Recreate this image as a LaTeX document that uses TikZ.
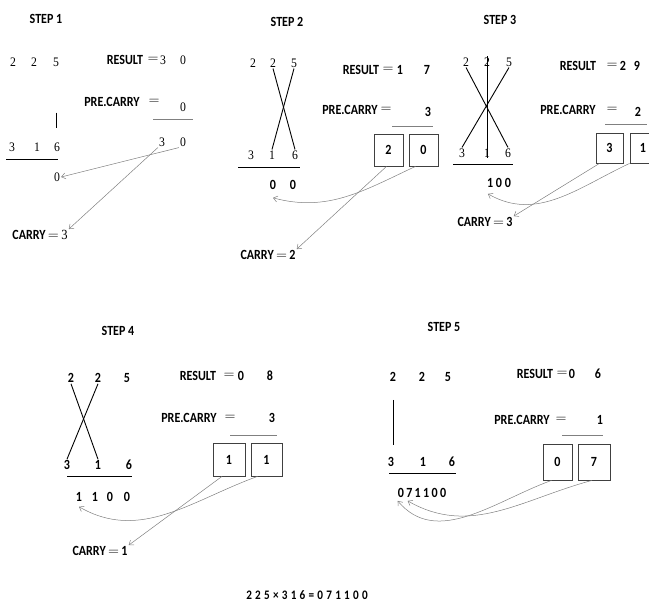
\documentclass[tikz,border=0pt]{standalone}
\usepackage{fontspec}
\setmainfont{Carlito}[FakeStretch=0.86]
\newfontfamily\serifdigits{Liberation Serif}[FakeStretch=0.9]
\usetikzlibrary{arrows.meta}

\tikzset{
  lbl/.style={font=\bfseries\fontsize{14}{16}\selectfont, inner sep=1pt},
  eqs/.style={font=\fontsize{14}{14}\selectfont, inner sep=1pt},
  dig/.style={font=\serifdigits\fontsize{13}{15}\selectfont, inner sep=1pt},
  bdig/.style={font=\bfseries\fontsize{14}{16}\selectfont, inner sep=1pt},
  digbox/.style={draw=black!75, line width=0.8pt, inner sep=0pt, font=\bfseries\fontsize{14}{16}\selectfont},
  rule/.style={line width=0.9pt},
  carry/.style={-{Straight Barb[length=4pt,width=6pt]}, gray, line width=0.5pt},
}

\begin{document}
\begin{tikzpicture}[x=1pt,y=-1pt]

\clip (0,0) rectangle (649,603);

% step 1
\node [lbl] (s1title) at (46,19) {STEP 1};
\node [dig] (s1a1) at (13,62) {2};
\node [dig] (s1a2) at (34,62) {2};
\node [dig] (s1a3) at (56,62) {5};
\node [dig] (s1b1) at (12,147) {3};
\node [dig] (s1b2) at (37,147) {1};
\node [dig] (s1b3) at (57,147) {6};
\draw [rule, shorten <=45pt, shorten >=19pt] (s1a3) -- (s1a3 |- s1b3);
\draw [rule] (6,159) -- (58,159);
\node [dig] (s1o1) at (57,177) {0};

\node [lbl] (s1res) at (125,60) {RESULT};
\node [eqs] (s1eq) at (153,60) {$=$};
\node [dig] (s1r1) at (163,60) {3};
\node [dig] (s1r2) at (183,60) {0};
\node [lbl] (s1pre) at (112,102) {PRE.CARRY};
\node [eqs] (s1peq) at (154,102) {$=$};
\node [dig] (s1pc) at (183,107) {0};
\draw [rule, gray] (153,119) -- (193,119);
\node [dig] (s1p1) at (162,142) {3};
\node [dig] (s1p2) at (183,142) {0};

\node [lbl] (s1carry) at (40,235) {CARRY\,$=$\,{\serifdigits\mdseries 3}};
\draw [carry] (s1p2.south west) -- (s1o1.east);
\draw [carry] (s1p1.south west) -- (s1carry.north east);

% step 2
\node [lbl] (s2title) at (287,22) {STEP 2};
\node [dig] (s2a1) at (253,63) {2};
\node [dig] (s2a2) at (273,63) {2};
\node [dig] (s2a3) at (294,63) {5};
\node [dig] (s2b1) at (251,155) {3};
\node [dig] (s2b2) at (272,155) {1};
\node [dig] (s2b3) at (295,155) {6};
\draw [rule] (s2a2.south) -- (s2b3.north);
\draw [rule] (s2a3.south) -- (s2b2.north);
\draw [rule] (238,167) -- (300,167);
\node [bdig] (s2r1) at (273,185) {0};
\node [bdig] (s2r2) at (293,185) {0};

\node [lbl] (s2res) at (361,70) {RESULT};
\node [eqs] (s2eq) at (388,70) {$=$};
\node [bdig] (s2v1) at (400,70) {1};
\node [bdig] (s2v2) at (427,70) {7};
\node [lbl] (s2pre) at (350,110) {PRE.CARRY};
\node [eqs] (s2peq) at (386,110) {$=$};
\node [bdig] (s2pc) at (428,112) {3};
\draw [rule, gray] (392,126) -- (433,126);
\node [digbox, minimum width=29pt, minimum height=32pt] (s2p) at (388.5,150) {2};
\node [digbox, minimum width=29pt, minimum height=32pt] (s2q) at (423.5,150) {0};

\node [lbl] (s2carry) at (268,255) {CARRY\,$=$\,2};
\draw [carry] ([xshift=-8pt]s2q.south) to [out=205, in=-15] ([yshift=-7pt]s2r1.south);
\draw [carry] ([xshift=-2pt]s2p.south) -- (s2carry.north east);

% step 3
\node [lbl] (s3title) at (500,20) {STEP 3};
\node [dig] (s3a1) at (466,62) {2};
\node [dig] (s3a2) at (487,62) {2};
\node [dig] (s3a3) at (509,62) {5};
\node [dig] (s3b1) at (462,153) {3};
\node [dig] (s3b2) at (487,153) {1};
\node [dig] (s3b3) at (508,153) {6};
\draw [rule] (s3a1.south) -- (s3b3.north);
\draw [rule] (s3a3.south) -- (s3b1.north);
\draw [rule] (s3a2.north) -- (s3b2.south);
\draw [rule] (453,164) -- (513,164);
\node [bdig] (s3r) at (499,183) {1 0 0};

\node [lbl] (s3res) at (578,66) {RESULT};
\node [eqs] (s3eq) at (612,66) {$=$};
\node [bdig] (s3v1) at (623,66) {2};
\node [bdig] (s3v2) at (637,66) {9};
\node [lbl] (s3pre) at (568,110) {PRE.CARRY};
\node [eqs] (s3peq) at (612,110) {$=$};
\node [bdig] (s3pc) at (638,112) {2};
\draw [rule, gray] (605,124) -- (647,124);
\node [digbox, minimum width=27pt, minimum height=30pt] (s3p) at (609.5,148) {3};
\node [digbox, minimum width=26pt, minimum height=30pt] (s3q) at (643,148) {1};

\node [lbl] (s3carry) at (485,222) {CARRY\,$=$\,3};
\draw [carry] (s3q.south west) to [out=205, in=-30] ([xshift=2pt,yshift=-5pt]s3r.south west);
\draw [carry] ([xshift=-10pt]s3p.south) -- (s3carry.north east);

% step 4
\node [lbl] (s4title) at (118,331) {STEP 4};
\node [bdig] (s4a1) at (71,378) {2};
\node [bdig] (s4a2) at (98,378) {2};
\node [bdig] (s4a3) at (127,378) {5};
\node [bdig] (s4b1) at (67,465) {3};
\node [bdig] (s4b2) at (98,465) {1};
\node [bdig] (s4b3) at (129,465) {6};
\draw [rule] (s4a1.south) -- (s4b2.north);
\draw [rule] (s4a2.south) -- (s4b1.north);
\draw [rule] (67,476) -- (132,476);
\node [bdig] (s4r1) at (79,497) {1};
\node [bdig] (s4r2) at (95,497) {1};
\node [bdig] (s4r3) at (110,497) {0};
\node [bdig] (s4r4) at (127,497) {0};

\node [lbl] (s4res) at (198,376) {RESULT};
\node [eqs] (s4eq) at (229,376) {$=$};
\node [bdig] (s4v1) at (241,376) {0};
\node [bdig] (s4v2) at (270,376) {8};
\node [lbl] (s4pre) at (189,418) {PRE.CARRY};
\node [eqs] (s4peq) at (230,418) {$=$};
\node [bdig] (s4pc) at (272,418) {3};
\draw [rule, gray] (230,435) -- (277,435);
\node [digbox, minimum width=32pt, minimum height=33pt] (s4p) at (229,459.5) {1};
\node [digbox, minimum width=31pt, minimum height=33pt] (s4q) at (266.5,459.5) {1};

\node [lbl] (s4carry) at (100,551) {CARRY\,$=$\,1};
\draw [carry] ([xshift=-9pt]s4q.south) to [out=200, in=-30] ([yshift=-4pt]s4r1.south);
\draw [carry] ([xshift=-7pt]s4p.south) -- (s4carry.north east);

% step 5
\node [lbl] (s5title) at (444,327) {STEP 5};
\node [bdig] (s5a1) at (393,377) {2};
\node [bdig] (s5a2) at (422,377) {2};
\node [bdig] (s5a3) at (448,377) {5};
\node [bdig] (s5b1) at (391,462) {3};
\node [bdig] (s5b2) at (423,462) {1};
\node [bdig] (s5b3) at (452,462) {6};
\draw [rule, shorten <=17pt, shorten >=17pt] (s5a1) -- (s5a1 |- s5b1);
\draw [rule] (389,473) -- (456,473);
\node [bdig] (s5r) at (422,493) {0\,7\,1\,1\,0\,0};

\node [lbl] (s5res) at (535,374) {RESULT};
\node [eqs] (s5eq) at (562,374) {$=$};
\node [bdig] (s5v1) at (572,374) {0};
\node [bdig] (s5v2) at (598,374) {6};
\node [lbl] (s5pre) at (522,420) {PRE.CARRY};
\node [eqs] (s5peq) at (561,420) {$=$};
\node [bdig] (s5pc) at (600,420) {1};
\draw [rule, gray] (562,435) -- (603,435);
\node [digbox, minimum width=29pt, minimum height=36pt] (s5p) at (557.5,462) {0};
\node [digbox, minimum width=32pt, minimum height=36pt] (s5q) at (594,462) {7};

\draw [carry] ([xshift=-6pt]s5p.south) to [out=200, in=-50] ([xshift=1pt,yshift=-2pt]s5r.south west);
\draw [carry] ([xshift=-2pt]s5q.south) to [out=195, in=-30] ([xshift=11pt,yshift=-2pt]s5r.south west);

% the product
\node [lbl, font=\bfseries\fontsize{13}{15}\selectfont\addfontfeatures{LetterSpace=25}] (total) at (307,595) {225×316=071100};

\end{tikzpicture}
\end{document}
